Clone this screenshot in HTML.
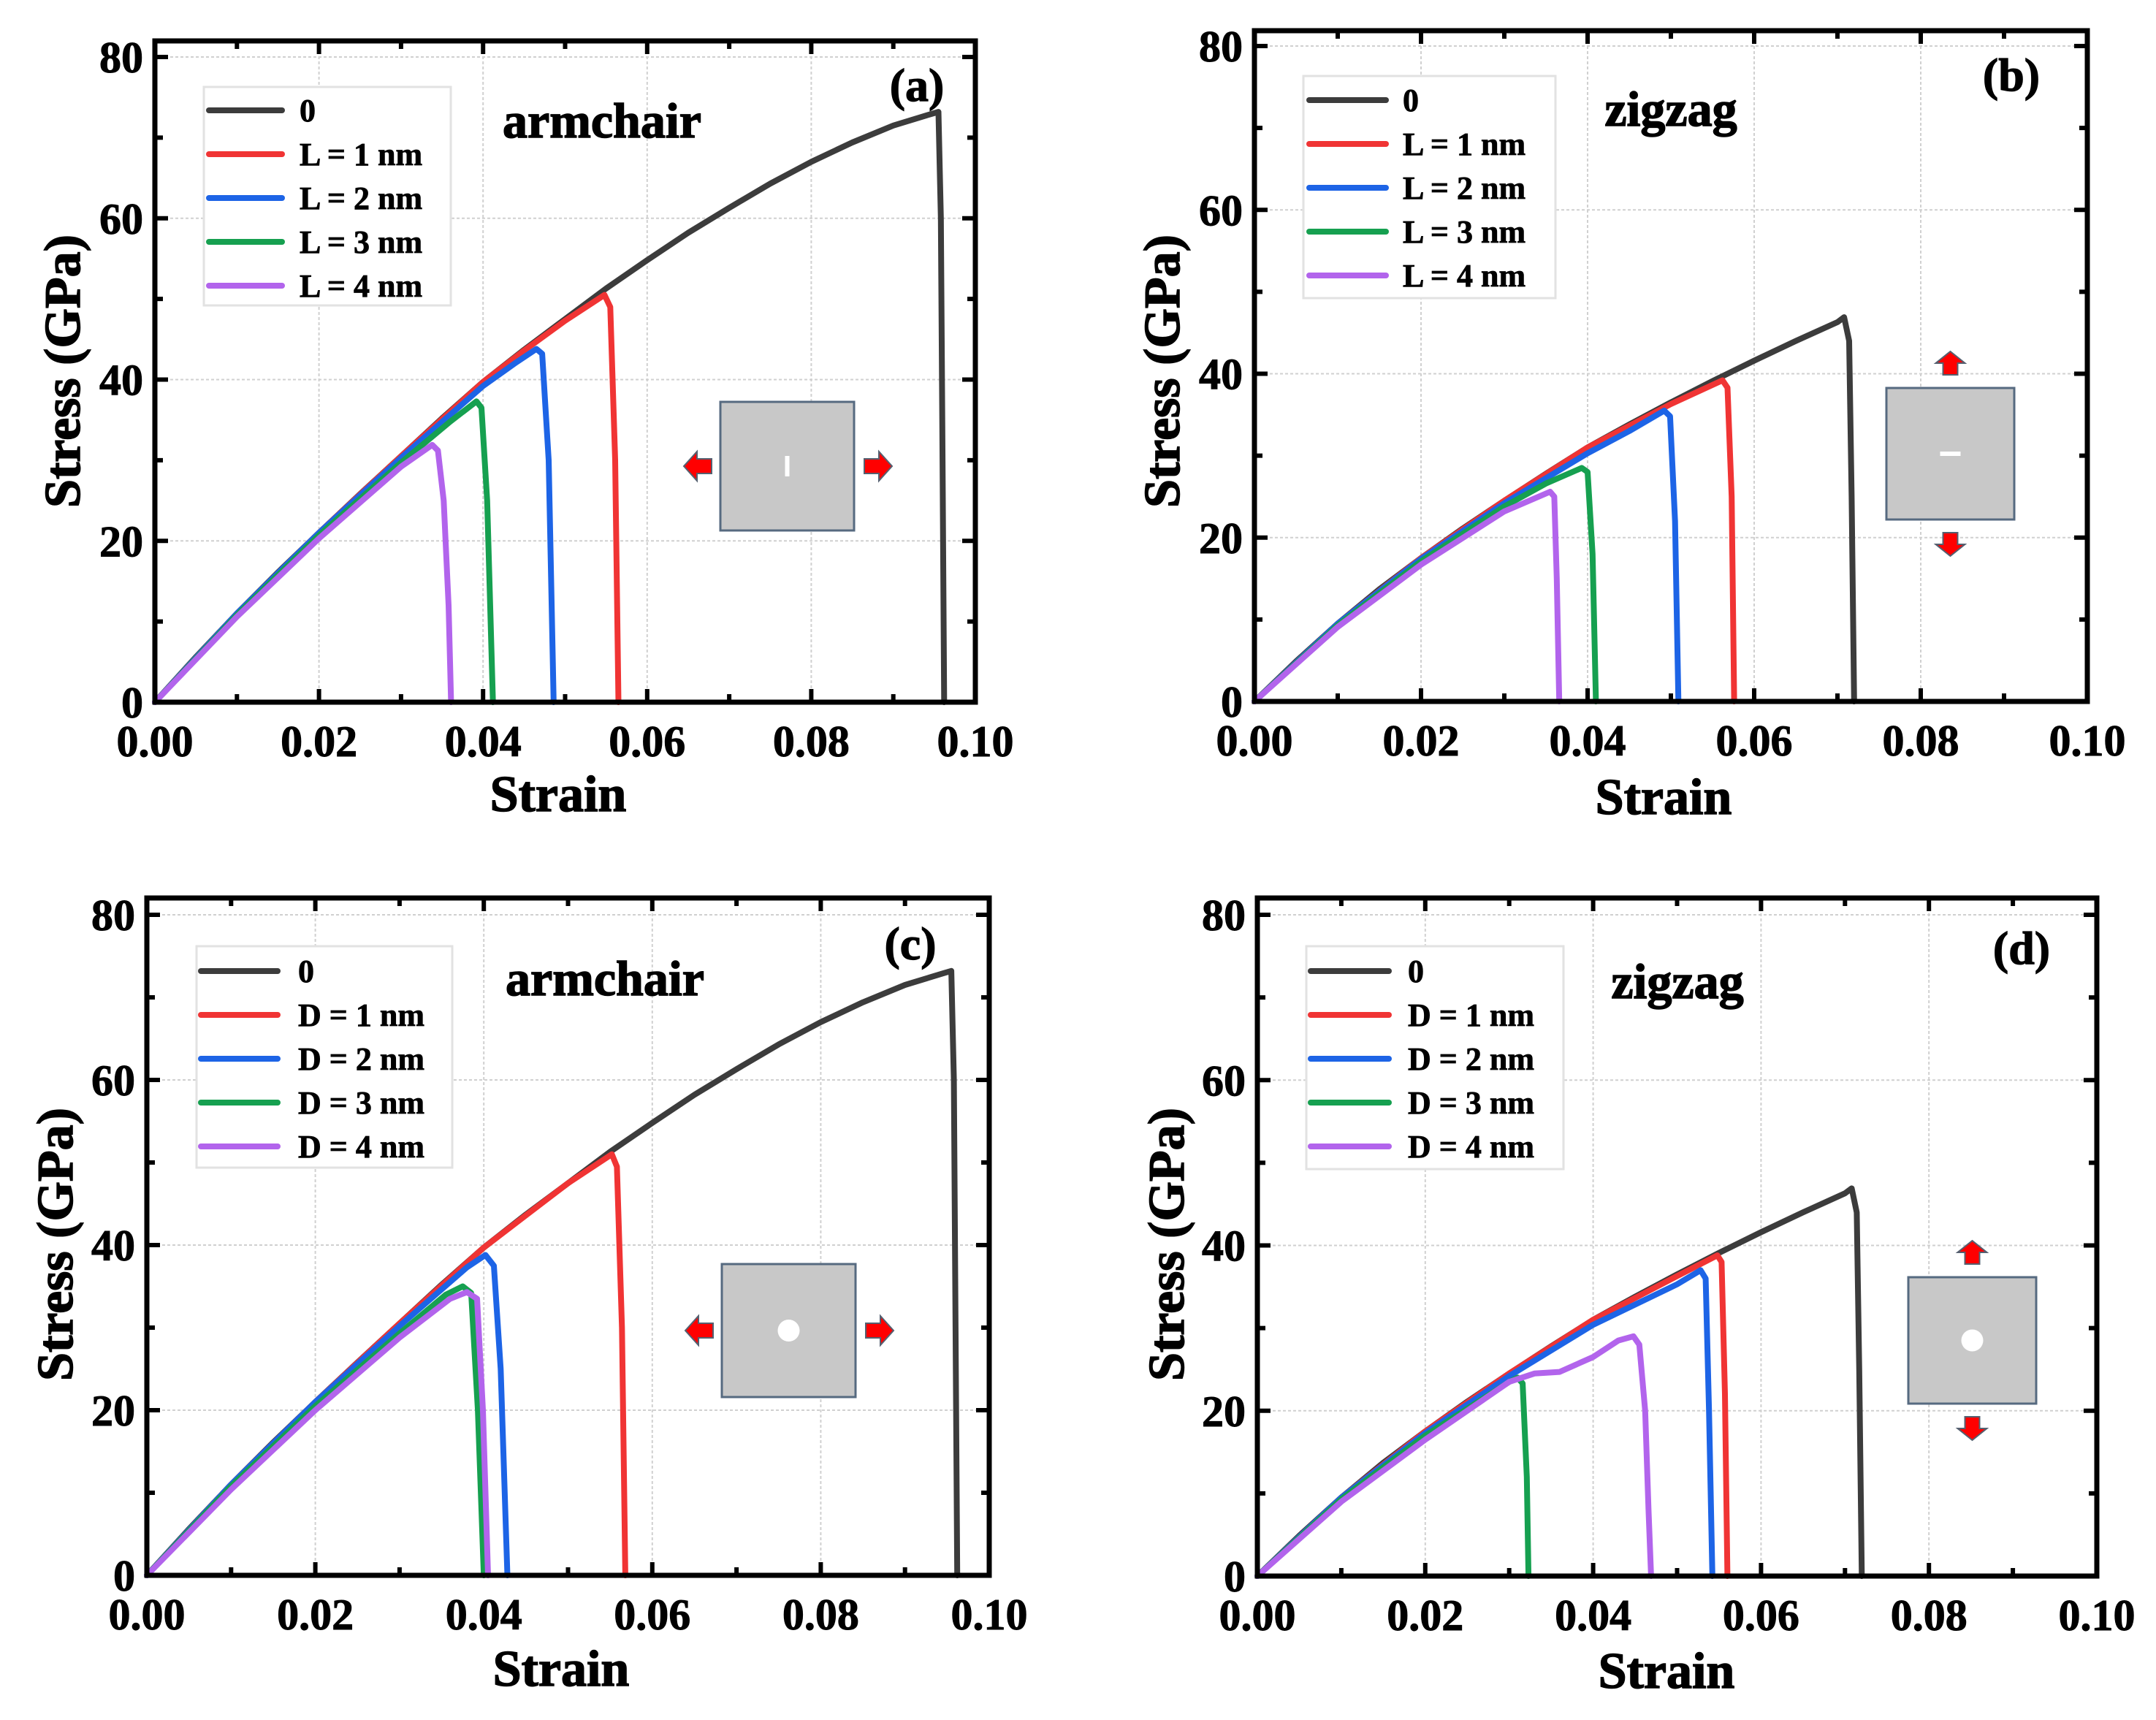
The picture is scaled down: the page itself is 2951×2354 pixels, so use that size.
<!DOCTYPE html>
<html><head><meta charset="utf-8">
<style>
html,body{margin:0;padding:0;background:#fff;}
svg{display:block;font-family:"Liberation Serif",serif;font-weight:bold;}
</style></head>
<body>
<svg id="fig" width="2951" height="2354" viewBox="0 0 2951 2354" xmlns="http://www.w3.org/2000/svg"></svg>
<script>
// ---------- data (strain, stress GPa) ----------
const xTicks = [0, 0.02, 0.04, 0.06, 0.08, 0.10];
const xTickLabels = ["0.00","0.02","0.04","0.06","0.08","0.10"];
const yTicks = [0, 20, 40, 60, 80];
const yTickLabels = ["0","20","40","60","80"];

const armX0 = [0,0.005,0.01,0.015,0.02,0.025,0.03,0.035,0.04,0.045,0.05,0.055,0.06,0.065,0.07,0.075,0.08,0.085,0.09,0.0945,0.0955,0.0958,0.096,0.0962];
const armY0 = [0,5.6,11,16.1,21,25.8,30.5,35.2,39.7,43.7,47.5,51.3,54.8,58.2,61.3,64.3,67,69.4,71.5,72.9,73.2,60,30,0];
const aX1 = [0,0.01,0.02,0.03,0.04,0.045,0.05,0.0548,0.0555,0.0561,0.0565];
const aY1 = [0,11,21,30.5,39.7,43.6,47.3,50.5,49,30,0];
const aX2 = [0,0.01,0.02,0.03,0.04,0.044,0.0465,0.0472,0.048,0.0486];
const aY2 = [0,11,21,30.3,39.2,42.1,43.8,43.2,30,0];
const aX3 = [0,0.01,0.02,0.03,0.036,0.0392,0.0398,0.0405,0.0412];
const aY3 = [0,10.8,20.7,29.7,34.8,37.3,36.5,25,0];
const aX4 = [0,0.01,0.02,0.03,0.0338,0.0345,0.0352,0.0358,0.0361];
const aY4 = [0,10.6,20.3,29.2,31.9,31.2,25,12,0];

const zigX0 = [0,0.005,0.01,0.015,0.02,0.025,0.03,0.035,0.04,0.045,0.05,0.055,0.06,0.065,0.07,0.0708,0.0714,0.0717,0.072];
const zigY0 = [0,4.9,9.5,13.7,17.5,21.1,24.5,27.8,31,33.8,36.5,39.1,41.6,44,46.3,46.9,44,25,0];
const bX1 = [0,0.01,0.02,0.03,0.04,0.05,0.0562,0.0568,0.0573,0.0576];
const bY1 = [0,9.5,17.5,24.5,31,36.3,39.2,38.3,25,0];
const bX2 = [0,0.01,0.02,0.03,0.04,0.045,0.0492,0.0499,0.0505,0.0509];
const bY2 = [0,9.5,17.4,24.2,30.3,33,35.5,34.8,22,0];
const bX3 = [0,0.01,0.02,0.03,0.035,0.0393,0.04,0.0406,0.041];
const bY3 = [0,9.3,17.1,23.8,26.6,28.5,28,18,0];
const bX4 = [0,0.01,0.02,0.03,0.0355,0.036,0.0363,0.0366];
const bY4 = [0,9.1,16.7,23.2,25.6,25,15,0];

const cX1 = [0,0.01,0.02,0.03,0.04,0.045,0.05,0.0552,0.0558,0.0564,0.0568];
const cY1 = [0,11,21,30.5,39.7,43.6,47.5,51,49.5,30,0];
const cX2 = [0,0.01,0.02,0.03,0.038,0.0402,0.0412,0.042,0.0428];
const cY2 = [0,11,21,30.2,37.3,38.8,37.5,25,0];
const cX3 = [0,0.01,0.02,0.03,0.0355,0.0375,0.0385,0.0393,0.04];
const cY3 = [0,10.8,20.5,29.3,34,35,34.2,20,0];
const cX4 = [0,0.01,0.02,0.03,0.036,0.038,0.0392,0.0399,0.0405];
const cY4 = [0,10.4,20,28.8,33.5,34.3,33.5,20,0];

const dX1 = [0,0.01,0.02,0.03,0.04,0.05,0.0548,0.0553,0.0557,0.056];
const dY1 = [0,9.5,17.5,24.5,31,36.3,38.8,38,22,0];
const dX2 = [0,0.01,0.02,0.03,0.04,0.05,0.0528,0.0534,0.0538,0.0542];
const dY2 = [0,9.5,17.3,24.2,30.4,35.3,37,36,20,0];
const dX3 = [0,0.01,0.02,0.03,0.031,0.0316,0.0321,0.0323];
const dY3 = [0,9.3,17,23.5,24,23.3,12,0];
const dX4 = [0,0.01,0.02,0.03,0.033,0.036,0.04,0.043,0.0448,0.0455,0.0462,0.0466,0.0469];
const dY4 = [0,9,16.5,23.5,24.5,24.7,26.5,28.5,29,28,20,8,0];

const colors = ["#3c3c3c","#f03434","#1d64e6","#16a050","#b264ec"];
const legA = ["0","L = 1 nm","L = 2 nm","L = 3 nm","L = 4 nm"];
const legC = ["0","D = 1 nm","D = 2 nm","D = 3 nm","D = 4 nm"];

// ---------- geometry ----------
const panels = [
 {id:"a", x0:212, x1:1335, y0:961, y80:78, top:56, series:[[armX0,armY0],[aX1,aY1],[aX2,aY2],[aX3,aY3],[aX4,aY4]], leg:legA,
  legBox:[279,119,338,299], legY:151, legLine:[286,386], legText:410, title:"armchair", tpos:[824,188], tag:"(a)", tagpos:[1255,138],
  yt:[85,508], xt:[764,1110], inset:{type:"h", box:[986,550,183,176], mark:"vline"}},
 {id:"b", x0:1717, x1:2857, y0:960, y80:63, top:42, series:[[zigX0,zigY0],[bX1,bY1],[bX2,bY2],[bX3,bY3],[bX4,bY4]], leg:legA,
  legBox:[1784,104,345,304], legY:137, legLine:[1792,1897], legText:1920, title:"zigzag", tpos:[2287,172], tag:"(b)", tagpos:[2753,124],
  yt:[1590,508], xt:[2277,1114], inset:{type:"v", box:[2582,531,175,180], mark:"hline"}},
 {id:"c", x0:201, x1:1354, y0:2156, y80:1252, top:1229, series:[[armX0,armY0],[cX1,cY1],[cX2,cY2],[cX3,cY3],[cX4,cY4]], leg:legC,
  legBox:[269,1295,350,303], legY:1329, legLine:[275,380], legText:408, title:"armchair", tpos:[828,1362], tag:"(c)", tagpos:[1246,1313],
  yt:[75,1703], xt:[768,2307], inset:{type:"h", box:[988,1730,183,182], mark:"hole"}},
 {id:"d", x0:1721, x1:2870, y0:2157, y80:1252, top:1229, series:[[zigX0,zigY0],[dX1,dY1],[dX2,dY2],[dX3,dY3],[dX4,dY4]], leg:legC,
  legBox:[1788,1295,352,305], legY:1329, legLine:[1794,1901], legText:1927, title:"zigzag", tpos:[2296,1366], tag:"(d)", tagpos:[2767,1319],
  yt:[1596,1703], xt:[2281,2310], inset:{type:"v", box:[2612,1748,175,173], mark:"hole"}}
];

const NS = "http://www.w3.org/2000/svg";
const fig = document.getElementById("fig");
function mk(tag, attrs, parent){ const e=document.createElementNS(NS,tag); for(const k in attrs) e.setAttribute(k,attrs[k]); (parent||fig).appendChild(e); return e; }

panels.forEach(p=>{
  const g = mk("g",{});
  
  
  const sx = v => p.x0 + v/0.10*(p.x1-p.x0);
  const sy = v => p.y0 - v/80*(p.y0-p.y80);
  const bottom = p.y0;
  xTicks.forEach(t=>{ if(t>0 && t<0.10){ const l=mk("line",{x1:sx(t),x2:sx(t),y1:p.top,y2:bottom,stroke:"#d0d0d0","stroke-width":2,"stroke-dasharray":"4 3"},g);   }});
  yTicks.forEach(t=>{ if(t>0){ const l=mk("line",{x1:p.x0,x2:p.x1,y1:sy(t),y2:sy(t),stroke:"#d0d0d0","stroke-width":2,"stroke-dasharray":"4 3"},g);   }});
  for(let i=0;i<=10;i++){ const v=i*0.01, len = i%2===0?18:11; const X=sx(v);
    mk("line",{x1:X,x2:X,y1:bottom,y2:bottom-len,stroke:"#000","stroke-width":6},g);
    mk("line",{x1:X,x2:X,y1:p.top,y2:p.top+len,stroke:"#000","stroke-width":6},g);
  }
  for(let v=0; v<=80; v+=10){ const len = v%20===0?18:11; const Y=sy(v);
    mk("line",{x1:p.x0,x2:p.x0+len,y1:Y,y2:Y,stroke:"#000","stroke-width":6},g);
    mk("line",{x1:p.x1,x2:p.x1-len,y1:Y,y2:Y,stroke:"#000","stroke-width":6},g);
  }
  p.series.forEach((s,i)=>{
    const pts = s[0].map((x,j)=> sx(x).toFixed(1)+","+sy(s[1][j]).toFixed(1)).join(" ");
    const pl = mk("polyline",{points:pts,fill:"none",stroke:colors[i],"stroke-width":8,"stroke-linejoin":"round","stroke-linecap":"round"},g);
    
    
  });
  const fr = mk("rect",{x:p.x0,y:p.top,width:p.x1-p.x0,height:bottom-p.top,fill:"none",stroke:"#000","stroke-width":7},g);
   
  xTicks.forEach((t,i)=>{ const tx=mk("text",{x:sx(t),y:bottom+74,"text-anchor":"middle","font-size":60,stroke:"#000","stroke-width":1},g); tx.textContent=xTickLabels[i];
      });
  yTicks.forEach((t,i)=>{ const tx=mk("text",{x:p.x0-16,y:sy(t)+21,"text-anchor":"end","font-size":60,stroke:"#000","stroke-width":1},g); tx.textContent=yTickLabels[i];
      });
  const xt=mk("text",{x:p.xt[0],y:p.xt[1],"text-anchor":"middle","font-size":70,stroke:"#000","stroke-width":1.5},g); xt.textContent="Strain";
   
  const yt=mk("text",{x:0,y:0,"text-anchor":"middle","font-size":70,stroke:"#000","stroke-width":1.5,transform:`translate(${p.yt[0]+24},${p.yt[1]}) rotate(-90)`},g); yt.textContent="Stress (GPa)";
   
  const lg = mk("g",{},g);  
  mk("rect",{x:p.legBox[0],y:p.legBox[1],width:p.legBox[2],height:p.legBox[3],fill:"#fff",stroke:"#e2e2e2","stroke-width":3},lg);
  p.leg.forEach((lab,i)=>{ const Y=p.legY+i*60;
    const e = mk("g",{},lg);  
    mk("line",{x1:p.legLine[0],x2:p.legLine[1],y1:Y,y2:Y,stroke:colors[i],"stroke-width":8,"stroke-linecap":"round"},e);
    const t=mk("text",{x:p.legText,y:Y+15,"font-size":44,stroke:"#000","stroke-width":0.8},e); t.textContent=lab;
  });
  const tt=mk("text",{x:p.tpos[0],y:p.tpos[1],"text-anchor":"middle","font-size":68,stroke:"#000","stroke-width":1.5},g); tt.textContent=p.title;
   
  const tg=mk("text",{x:p.tagpos[0],y:p.tagpos[1],"text-anchor":"middle","font-size":64,stroke:"#000","stroke-width":1.2},g); tg.textContent=p.tag;
   
  const ins = mk("g",{},g);  
  const b = p.inset.box; const cx=b[0]+b[2]/2, cy=b[1]+b[3]/2;
  mk("rect",{x:b[0],y:b[1],width:b[2],height:b[3],fill:"#c8c8c8",stroke:"#566a80","stroke-width":3},ins);
  if(p.inset.mark==="vline") mk("rect",{x:cx-3,y:cy-14,width:6,height:28,fill:"#fff"},ins);
  if(p.inset.mark==="hline") mk("rect",{x:cx-14,y:cy-3,width:28,height:6,fill:"#fff"},ins);
  if(p.inset.mark==="hole") mk("circle",{cx:cx,cy:cy,r:15,fill:"#fff"},ins);
  const arrow = (x,y,dir)=>{
    let pts;
    if(dir==='r') pts=[[x,y-10],[x+20,y-10],[x+20,y-20],[x+38,y],[x+20,y+20],[x+20,y+10],[x,y+10]];
    if(dir==='l') pts=[[x,y-10],[x-20,y-10],[x-20,y-20],[x-38,y],[x-20,y+20],[x-20,y+10],[x,y+10]];
    if(dir==='u') pts=[[x-10,y],[x-10,y-16],[x-20,y-16],[x,y-32],[x+20,y-16],[x+10,y-16],[x+10,y]];
    if(dir==='d') pts=[[x-10,y],[x-10,y+16],[x-20,y+16],[x,y+32],[x+20,y+16],[x+10,y+16],[x+10,y]];
    const a=mk("polygon",{points:pts.map(q=>q.join(",")).join(" "),fill:"#f00",stroke:"#556070","stroke-width":2},ins);
     
  };
  if(p.inset.type==="h"){ arrow(b[0]-12,cy,'l'); arrow(b[0]+b[2]+14,cy,'r'); }
  else { arrow(cx,b[1]-18,'u'); arrow(cx,b[1]+b[3]+18,'d'); }
});
</script>
</body></html>
